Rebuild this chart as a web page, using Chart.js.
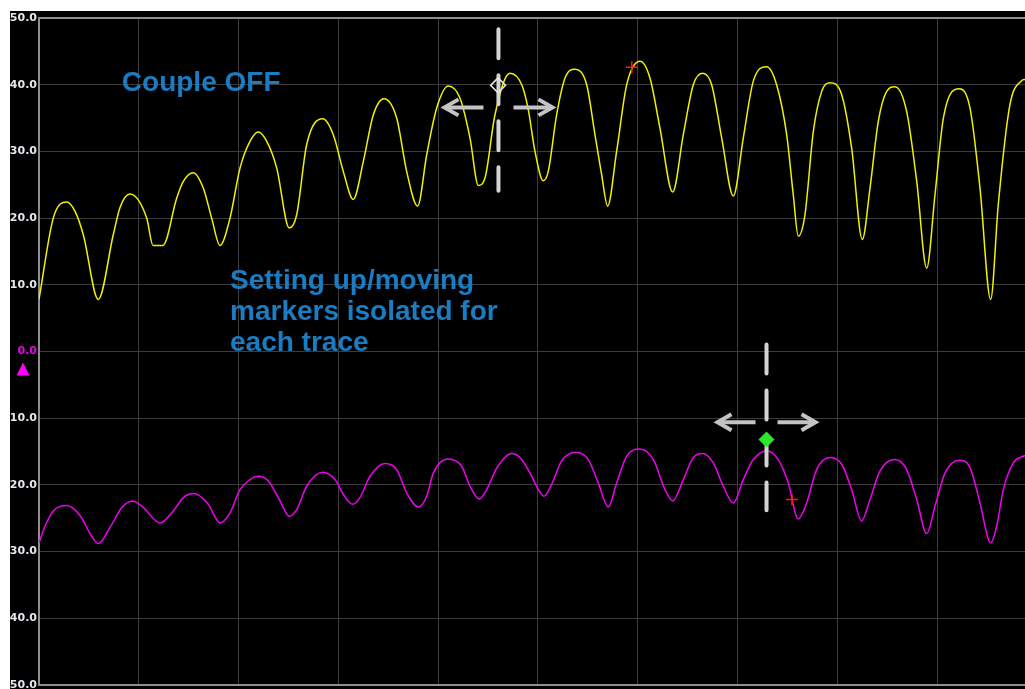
<!DOCTYPE html>
<html><head><meta charset="utf-8">
<script src="https://cdn.jsdelivr.net/npm/chart.js@4"></script>
<style>html,body{margin:0;padding:0;background:#fff;overflow:hidden}canvas{display:block}</style>
</head><body>
<canvas id="c" width="1025" height="689"></canvas>
<script>
// ---- data (x in time units: 100 per division, y in trace units) ----
const yTickValues = [50, 40, 30, 20, 10, 0, -10, -20, -30, -40, -50];

const timeYellow = [0,14.3,27.8,36.1,44.4,59.4,74.4,81.2,91.2,107.9,
  114.2,124.2,138.0,144.6,154.6,164.6,173.0,181.4,191.4,201.4,
  211.4,219.7,228.2,238.2,250.8,258.2,268.2,284.3,294.9,304.9,
  314.9,325.0,335.0,345.7,358.4,368.4,379.4,388.5,398.5,410.1,
  421.8,431.9,440.2,446.9,456.9,471.9,483.7,490.0,497.0,505.3,
  510.3,518.7,527.1,537.1,548.8,557.1,563.8,569.8,578.8,588.9,
  602.2,612.2,622.2,635.0,645.6,655.6,665.0,674.0,684.1,695.7,
  705.7,715.7,729.1,739.1,749.2,755.8,760.8,767.5,775.9,784.3,
  792.6,804.3,814.3,825.0,832.7,841.0,849.4,857.7,869.4,879.5,
  889.5,897.8,906.2,922.2,932.9,942.9,953.6,961.2,972.9,984.6,988];
const yellowValues = [7.8,20.0,22.4,21.0,17.5,7.8,17.5,21.6,23.6,20.0,
  15.9,15.9,23.0,25.5,26.8,24.5,20.0,15.9,20.0,27.5,
  31.5,32.9,31.5,27.5,18.5,20.5,31.0,34.9,32.5,27.0,
  22.8,28.5,35.5,37.9,35.0,27.0,21.8,29.5,36.5,39.8,
  38.0,32.0,24.9,26.0,35.5,41.7,40.0,36.5,30.0,25.6,
  27.0,35.5,41.0,42.3,40.0,32.5,26.5,21.8,30.0,40.0,
  43.5,41.0,33.5,23.9,32.5,40.0,41.7,40.0,32.0,23.3,
  32.0,40.5,42.7,40.0,32.5,23.5,17.3,20.5,33.0,39.0,
  40.3,38.5,30.5,16.8,24.5,34.5,39.0,39.7,36.0,25.5,
  12.5,23.5,35.0,39.4,36.5,24.5,7.8,22.0,37.0,40.6,40.8];

const timeMagenta = [0,6.0,14.3,27.8,41.1,52.8,59.4,71.1,82.9,93.9,
  104.5,121.2,134.6,144.6,155.3,169.6,181.4,191.4,201.4,211.4,
  219.7,229.8,241.5,250.8,258.2,268.2,284.3,296.6,304.9,314.3,
  321.6,331.7,346.7,358.4,368.4,380.1,388.5,395.1,410.1,423.5,
  431.9,441.2,448.6,458.6,473.6,481.9,492.0,500.3,506.0,513.7,
  523.7,538.1,550.4,560.4,570.4,578.8,588.9,602.2,615.6,627.3,
  635.0,645.6,655.6,665.0,675.6,685.7,695.7,705.7,715.7,729.1,
  740.8,750.8,760.8,769.2,779.2,792.6,804.3,814.3,824.3,832.7,
  842.7,857.7,869.4,879.5,889.5,897.8,907.9,922.2,932.9,942.9,
  953.6,959.6,966.3,976.3,986.3,988];
const magentaValues = [-28.7,-26.2,-23.9,-23.1,-24.6,-27.7,-28.8,-26.4,-23.4,-22.4,
  -23.4,-25.7,-23.9,-21.9,-21.3,-22.9,-25.7,-24.2,-20.7,-19.2,
  -18.7,-19.4,-22.4,-24.7,-23.7,-20.2,-18.1,-19.2,-21.4,-22.9,
  -21.9,-18.7,-16.8,-17.7,-21.2,-23.3,-21.7,-18.2,-16.1,-17.2,
  -20.2,-22.1,-20.7,-17.5,-15.3,-15.9,-18.2,-20.7,-21.7,-19.9,
  -16.4,-15.1,-16.2,-19.7,-23.3,-19.7,-15.7,-14.6,-16.2,-20.7,
  -22.4,-19.2,-15.9,-15.3,-16.7,-20.2,-22.7,-19.2,-16.2,-14.9,
  -16.2,-19.7,-25.1,-22.7,-17.7,-15.9,-16.9,-20.7,-25.4,-22.2,
  -17.9,-16.2,-17.7,-22.2,-27.3,-23.2,-18.2,-16.3,-17.4,-22.7,
  -28.7,-26.2,-20.7,-16.7,-15.7,-15.6];

// markers
const crossX = [594, 754.5];
const crossY = [42.6, -22.2];
const hollowMarkerX = [460];
const hollowMarkerY = [39.9];
const activeMarkerX = [729];
const activeMarkerY = [-13.2];

// cursors: x, top value, bottom value, arrow level
const cursorX = [460.4, 729];
const cursorTop = [48.6, 1.35];
const cursorBottom = [23.8, -24.1];
const cursorArrow = [36.6, -10.6];

// annotations
const noteLines1 = ['Couple OFF'];
const noteAt1 = [83, 39.0];
const noteLines2 = ['Setting up/moving', 'markers isolated for', 'each trace'];
const noteAt2 = [191.4, 9.3];
const refLevel = -2.7; // magenta reference triangle

const zip = (xs, ys) => xs.map((x, i) => ({x, y: ys[i]}));

// arrow geometry (pixels) per cursor: reach of tip, gap from cursor line
const arrowReach = [54, 49];
const arrowGap = [15, 11];

const scopePlugin = {
  id: 'scope',
  beforeDraw(chart) {
    const ctx = chart.ctx;
    ctx.save();
    ctx.fillStyle = '#ffffff';
    ctx.fillRect(0, 0, chart.width, chart.height);
    ctx.fillStyle = '#000000';
    ctx.fillRect(10, 11, chart.width - 10, chart.height - 11);
    ctx.restore();
  },
  beforeDatasetsDraw(chart) {
    const {ctx, chartArea: a, scales} = chart;
    ctx.save();
    ctx.strokeStyle = '#8e8e8e';
    ctx.lineWidth = 2;
    ctx.beginPath();
    ctx.moveTo(a.right + 2, a.top); ctx.lineTo(a.left, a.top);
    ctx.lineTo(a.left, a.bottom); ctx.lineTo(a.right + 2, a.bottom);
    ctx.stroke();
    // reference triangle for magenta trace
    const ty = scales.y.getPixelForValue(refLevel);
    const tx = a.left - 16;
    ctx.fillStyle = '#ff00ff';
    ctx.beginPath();
    ctx.moveTo(tx, ty - 7); ctx.lineTo(tx + 6.5, ty + 6); ctx.lineTo(tx - 6.5, ty + 6);
    ctx.closePath(); ctx.fill();
    // notes
    ctx.fillStyle = '#1a7cc2';
    ctx.font = 'bold 28px "Liberation Sans", Arial, sans-serif';
    ctx.textBaseline = 'alphabetic';
    noteLines1.forEach((t, i) => ctx.fillText(t, scales.x.getPixelForValue(noteAt1[0]), scales.y.getPixelForValue(noteAt1[1]) + i * 31));
    noteLines2.forEach((t, i) => ctx.fillText(t, scales.x.getPixelForValue(noteAt2[0]), scales.y.getPixelForValue(noteAt2[1]) + i * 31));
    ctx.restore();
  },
  afterDatasetDraw(chart, args) {
    if (args.index !== 3) return;
    const {ctx, scales} = chart;
    ctx.save();
    cursorX.forEach((cx, i) => {
      const x = scales.x.getPixelForValue(cx);
      const y0 = scales.y.getPixelForValue(cursorTop[i]);
      const y1 = scales.y.getPixelForValue(cursorBottom[i]);
      const ya = scales.y.getPixelForValue(cursorArrow[i]);
      ctx.strokeStyle = '#d4d4d4';
      ctx.lineWidth = 4;
      ctx.lineCap = 'round';
      ctx.setLineDash([29, 17]);
      ctx.beginPath(); ctx.moveTo(x, y0 + 2); ctx.lineTo(x, y1 - 2); ctx.stroke();
      ctx.setLineDash([]);
      ctx.strokeStyle = '#c4c4c4';
      ctx.lineCap = 'butt';
      ctx.lineJoin = 'miter';
      [-1, 1].forEach(d => {
        const tip = x + d * arrowReach[i], inner = x + d * arrowGap[i];
        ctx.beginPath(); ctx.moveTo(inner, ya); ctx.lineTo(tip - d * 2, ya); ctx.stroke();
        ctx.beginPath();
        ctx.moveTo(tip - d * 14, ya - 8); ctx.lineTo(tip, ya); ctx.lineTo(tip - d * 14, ya + 8);
        ctx.stroke();
      });
    });
    ctx.restore();
  }
};

new Chart(document.getElementById('c'), {
  type: 'line',
  data: {
    datasets: [
      {data: zip(crossX, crossY), showLine: false, pointStyle: 'cross', pointRadius: 6,
       borderColor: '#ff1a1a', borderWidth: 1.5, backgroundColor: '#ff1a1a'},
      {data: zip(hollowMarkerX, hollowMarkerY), showLine: false, pointStyle: 'rectRot', pointRadius: 7.5,
       borderColor: '#e6e6e6', borderWidth: 1.5, backgroundColor: 'rgba(0,0,0,0)'},
      {data: zip(activeMarkerX, activeMarkerY), showLine: false, pointStyle: 'rectRot', pointRadius: 7.5,
       borderColor: '#2ee62e', borderWidth: 1, backgroundColor: '#2ee62e'},
      {data: zip(timeYellow, yellowValues), borderColor: '#f2f200', borderWidth: 1.5,
       pointRadius: 0, cubicInterpolationMode: 'monotone', fill: false},
      {data: zip(timeMagenta, magentaValues), borderColor: '#f000f0', borderWidth: 1.5,
       pointRadius: 0, cubicInterpolationMode: 'monotone', fill: false}
    ]
  },
  options: {
    responsive: false,
    animation: false,
    devicePixelRatio: 1,
    events: [],
    layout: {autoPadding: false, padding: {left: 0, top: 18, right: 0, bottom: 4}},
    plugins: {legend: {display: false}, tooltip: {enabled: false}},
    scales: {
      x: {
        type: 'linear', min: 0, max: 988,
        ticks: {display: false, stepSize: 100},
        grid: {color: '#3c3c3c', lineWidth: 1, drawTicks: false},
        border: {display: false},
        afterFit: s => { s.height = 0; s.paddingLeft = 0; s.paddingRight = 0; s.paddingTop = 0; s.paddingBottom = 0; }
      },
      y: {
        type: 'linear', min: -50, max: 50,
        afterBuildTicks: s => { s.ticks = yTickValues.map(v => ({value: v})); },
        ticks: {
          padding: 2,
          callback: v => Math.abs(v).toFixed(1),
          color: c => (c.tick && c.tick.value === 0) ? '#ee00ee' : '#e4e8ee',
          font: {family: '"DejaVu Sans", sans-serif', weight: 'bold', size: 11}
        },
        grid: {color: '#3c3c3c', lineWidth: 1, drawTicks: false},
        border: {display: false},
        afterFit: s => { s.width = 39; s.paddingTop = 0; s.paddingBottom = 0; s.paddingLeft = 0; s.paddingRight = 0; }
      }
    }
  },
  plugins: [scopePlugin]
});
</script>
</body></html>
